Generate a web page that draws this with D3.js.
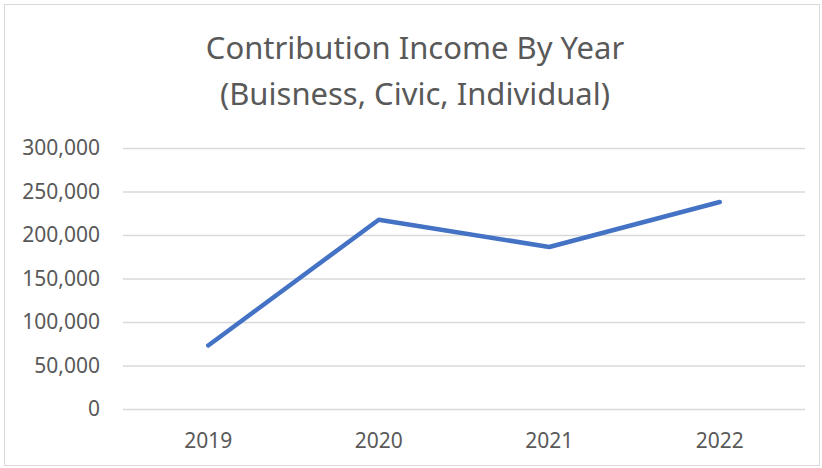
<!doctype html>
<html lang="en">
<head>
  <style>
    body { margin: 0; background: #fff; }
    .tick-label { font: 21px "Noto Sans", sans-serif; fill: #595959; }
    .title { font: 31px "Noto Sans", sans-serif; fill: #595959; }
  </style>
  <script src="https://d3js.org/d3.v7.min.js"></script>
</head>
<body>
  <script>
    const years = ["2019", "2020", "2021", "2022"];
    const income = [73000, 217600, 186200, 237900];
    const yTicks = [0, 50000, 100000, 150000, 200000, 250000, 300000];
    const titleLines = ["Contribution Income By Year", "(Buisness, Civic, Individual)"];

    const W = 822, H = 468;
    const margin = { top: 148, right: 17, bottom: 59, left: 123 };
    const width = W - margin.left - margin.right;
    const height = H - margin.top - margin.bottom;

    const svg = d3.select("body")
        .append("svg")
        .attr("width", W)
        .attr("height", H);

    // outer chart border
    svg.append("rect")
        .attr("x", 4.5).attr("y", 4.5)
        .attr("width", W - 7).attr("height", H - 7)
        .attr("fill", "#fff")
        .attr("stroke", "#d9d9d9");

    svg.selectAll(".title")
        .data(titleLines)
        .enter()
        .append("text")
        .attr("class", "title")
        .attr("x", 415)
        .attr("y", (d, i) => 59 + i * 45.5)
        .attr("text-anchor", "middle")
        .text(d => d);

    const g = svg.append("g")
        .attr("transform", `translate(${margin.left},${margin.top})`);

    const x = d3.scaleBand()
        .domain(years)
        .range([0, width]);

    const y = d3.scaleLinear()
        .domain([0, 300000])
        .range([height, 0]);

    // gridlines
    g.append("g")
        .call(d3.axisLeft(y).tickValues(yTicks).tickSize(-width).tickFormat(""))
        .call(a => a.select(".domain").remove())
        .selectAll("line")
        .attr("stroke", "#d9d9d9")
        .attr("stroke-width", 1.5);

    // y labels
    g.append("g")
        .call(d3.axisLeft(y).tickValues(yTicks).tickSize(0).tickPadding(23).tickFormat(d3.format(",")))
        .call(a => a.select(".domain").remove())
        .selectAll("text")
        .attr("class", "tick-label");

    // x labels
    g.append("g")
        .attr("transform", `translate(0,${height})`)
        .call(d3.axisBottom(x).tickSize(0))
        .call(a => a.select(".domain").remove())
        .selectAll("text")
        .attr("class", "tick-label")
        .attr("y", 38.5)
        .attr("dy", 0);

    g.selectAll(".tick text").attr("fill", null);
    svg.selectAll("g").filter(function () { return this.hasAttribute("font-size"); })
        .attr("font-size", null).attr("font-family", null);

    const line = d3.line()
        .x((d, i) => x(years[i]) + x.bandwidth() / 2)
        .y(d => y(d));

    g.append("path")
        .datum(income)
        .attr("d", line)
        .attr("fill", "none")
        .attr("stroke", "#4472c4")
        .attr("stroke-width", 4.5)
        .attr("stroke-linecap", "round")
        .attr("stroke-linejoin", "round");
  </script>
</body>
</html>
